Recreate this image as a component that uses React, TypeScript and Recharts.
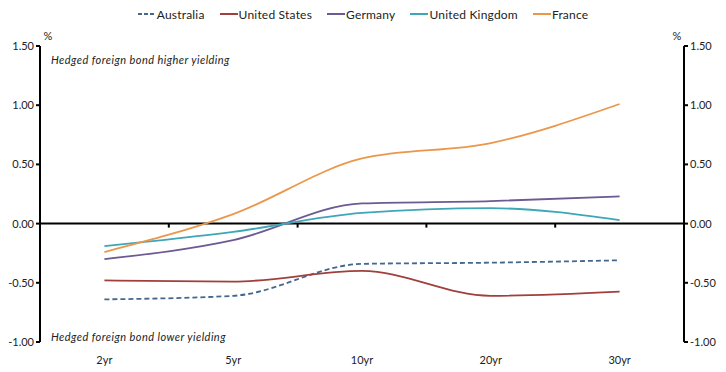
import React from 'react';
import {
  LineChart,
  Line,
  XAxis,
  YAxis,
  Legend,
  ReferenceLine,
} from 'recharts';

const TENORS = ['2yr', '5yr', '10yr', '20yr', '30yr'];
const AUSTRALIA = [-0.64, -0.61, -0.34, -0.33, -0.31];
const UNITED_STATES = [-0.48, -0.49, -0.4, -0.61, -0.575];
const GERMANY = [-0.3, -0.14, 0.17, 0.19, 0.23];
const UNITED_KINGDOM = [-0.19, -0.07, 0.09, 0.13, 0.03];
const FRANCE = [-0.24, 0.08, 0.55, 0.68, 1.01];
const Y_TICKS = [-1, -0.5, 0, 0.5, 1, 1.5];

const SERIES = [
  { key: 'Australia', values: AUSTRALIA, color: '#44678e', dash: '5 3' },
  { key: 'United States', values: UNITED_STATES, color: '#a0403d' },
  { key: 'Germany', values: GERMANY, color: '#6c5a92' },
  { key: 'United Kingdom', values: UNITED_KINGDOM, color: '#3fa6b8' },
  { key: 'France', values: FRANCE, color: '#eb974b' },
];

const data = TENORS.map((t, i) => {
  const row: Record<string, any> = { tenor: t };
  SERIES.forEach(s => { row[s.key] = s.values[i]; });
  return row;
});

const FONT = 'Lato, "Open Sans", sans-serif';
const TEXT = '#222';

const LegendContent = () => (
  <div style={{ display: 'flex', justifyContent: 'center', fontFamily: FONT, fontSize: 12, letterSpacing: 0.2, color: TEXT, height: 18, alignItems: 'center' }}>
    {SERIES.map((s, i) => (
      <div key={s.key} style={{ display: 'flex', alignItems: 'center', marginLeft: i === 0 ? 0 : 15 }}>
        <svg width={18} height={6} style={{ marginRight: 1 }}>
          <line x1={0} y1={3} x2={18} y2={3} stroke={s.color} strokeWidth={2} strokeDasharray={s.dash ? '4 2' : undefined} />
        </svg>
        <span>{s.key}</span>
      </div>
    ))}
  </div>
);

// zero line with tick marks at category boundaries
const ZeroLine = (props: any) => {
  const { x1, y1, x2, y2 } = props;
  const n = TENORS.length;
  const step = (x2 - x1) / n;
  const ticks = [];
  for (let i = 1; i < n; i++) {
    const x = x1 + step * i;
    ticks.push(<line key={i} x1={x} y1={y1} x2={x} y2={y1 + 4} stroke="#000" strokeWidth={2} />);
  }
  return (
    <g>
      <line x1={x1} y1={y1} x2={x2} y2={y2} stroke="#000" strokeWidth={2} />
      {ticks}
    </g>
  );
};

const PctLabel = (side: 'left' | 'right') => (props: any) => {
  const vb = props.viewBox;
  const x = side === 'left' ? vb.x + vb.width + 8 : vb.x - 7;
  return (
    <text x={x} y={vb.y - 6} textAnchor="middle" fontFamily={FONT} fontSize={11} fill={TEXT}>%</text>
  );
};

const Note = (text: string, dy: number) => (props: any) => {
  const vb = props.viewBox;
  return (
    <text x={vb.x + 11} y={vb.y + dy} fontFamily={FONT} fontSize={11} letterSpacing={0.45} fontStyle="italic" fill={TEXT}>{text}</text>
  );
};

const tickStyle = { fontFamily: FONT, fontSize: 11, fill: TEXT };

export default function App() {
  return (
    <div style={{ position: 'absolute', left: 0, top: 0, background: '#fff' }}>
      <LineChart width={726} height={372} data={data} margin={{ top: 28, right: 0, left: 0, bottom: 0 }}>
        <Legend verticalAlign="top" content={<LegendContent />} wrapperStyle={{ top: 5 }} />
        <XAxis
          dataKey="tenor"
          scale="band"
          height={30}
          axisLine={false}
          tickLine={false}
          tick={tickStyle}
          tickMargin={8}
        />
        <YAxis
          yAxisId="left"
          width={40}
          domain={[-1, 1.5]}
          ticks={Y_TICKS}
          tickFormatter={(v: number) => v.toFixed(2)}
          axisLine={{ stroke: '#000', strokeWidth: 2 }}
          tickLine={{ stroke: '#000', strokeWidth: 2 }}
          tickSize={4}
          tick={tickStyle}
          label={PctLabel('left')}
        />
        <YAxis
          yAxisId="right"
          orientation="right"
          width={42}
          domain={[-1, 1.5]}
          ticks={Y_TICKS}
          tickFormatter={(v: number) => v.toFixed(2)}
          axisLine={{ stroke: '#000', strokeWidth: 2 }}
          tickLine={{ stroke: '#000', strokeWidth: 2 }}
          tickSize={4}
          tick={tickStyle}
          label={PctLabel('right')}
        />
        <ReferenceLine yAxisId="left" y={0} shape={<ZeroLine />} />
        <ReferenceLine yAxisId="left" y={1.5} stroke="none" label={Note('Hedged foreign bond higher yielding', 18)} />
        <ReferenceLine yAxisId="left" y={-1} stroke="none" label={Note('Hedged foreign bond lower yielding', -1)} />
        {/* invisible series so the right axis gets its ticks */}
        <Line
          yAxisId="right"
          dataKey="France"
          stroke="none"
          dot={false}
          activeDot={false}
          legendType="none"
          isAnimationActive={false}
        />
        {SERIES.map(s => (
          <Line
            key={s.key}
            yAxisId="left"
            type="monotone"
            dataKey={s.key}
            stroke={s.color}
            strokeWidth={1.8}
            strokeDasharray={s.dash}
            dot={false}
            activeDot={false}
            isAnimationActive={false}
          />
        ))}
      </LineChart>
    </div>
  );
}
